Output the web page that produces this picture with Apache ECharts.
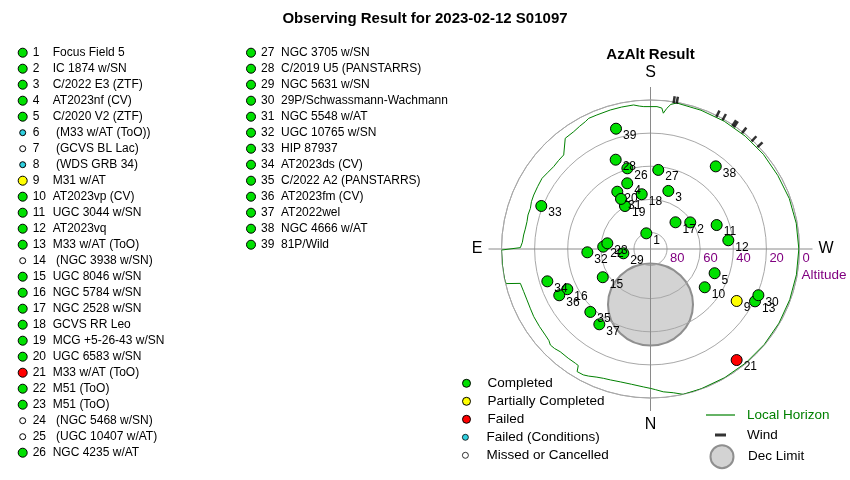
<!DOCTYPE html>
<html>
<head>
<meta charset="utf-8">
<script src="https://cdn.jsdelivr.net/npm/echarts@6/dist/echarts.min.js"></script>
<style>
html,body{margin:0;padding:0;background:#fff}
#main{width:850px;height:480px}
</style>
</head>
<body>
<div id="main"></div>
<script>
// target list (left side)
var targetNames = [
    'Focus Field 5', 'IC 1874 w/SN', 'C/2022 E3 (ZTF)', 'AT2023nf (CV)', 'C/2020 V2 (ZTF)',
    '(M33 w/AT (ToO))', '(GCVS BL Lac)', '(WDS GRB 34)', 'M31 w/AT', 'AT2023vp (CV)',
    'UGC 3044 w/SN', 'AT2023vq', 'M33 w/AT (ToO)', '(NGC 3938 w/SN)', 'UGC 8046 w/SN',
    'NGC 5784 w/SN', 'NGC 2528 w/SN', 'GCVS RR Leo', 'MCG +5-26-43 w/SN', 'UGC 6583 w/SN',
    'M33 w/AT (ToO)', 'M51 (ToO)', 'M51 (ToO)', '(NGC 5468 w/SN)', '(UGC 10407 w/AT)',
    'NGC 4235 w/AT', 'NGC 3705 w/SN', 'C/2019 U5 (PANSTARRS)', 'NGC 5631 w/SN', '29P/Schwassmann-Wachmann',
    'NGC 5548 w/AT', 'UGC 10765 w/SN', 'HIP 87937', 'AT2023ds (CV)', 'C/2022 A2 (PANSTARRS)',
    'AT2023fm (CV)', 'AT2022wel', 'NGC 4666 w/AT', '81P/Wild'
];
var targetStatus = [
    'C','C','C','C','C','FC','M','FC','P','C',
    'C','C','C','M','C','C','C','C','C','C',
    'F','C','C','M','M','C','C','C','C','C',
    'C','C','C','C','C','C','C','C','C'
];

var statusKeys = ['C', 'P', 'F', 'FC', 'M'];
var statusLabels = ['Completed', 'Partially Completed', 'Failed', 'Failed (Conditions)', 'Missed or Cancelled'];
var statusColors = ['#00e000', '#ffff00', '#ff0000', '#30d0e0', '#ffffff'];
var listDotSize = [9, 9, 9, 6, 6];
var legendDotSize = [8, 8, 8, 6, 5];

// plotted targets: number, azimuth (deg, N=0 E=90), altitude (deg)
var pointNo  = [1, 2, 3, 4, 5, 9, 10, 11, 12, 13, 15, 16, 17, 18, 19, 20, 21, 22, 23, 26, 27, 28, 29, 30, 31, 32, 33, 34, 35, 36, 37, 38, 39];
var pointAz  = [165.0, 236.2, 197.1, 160.5, 290.7, 301.1, 305.2, 250.1, 263.6, 296.6, 59.4, 64.2, 223.1, 170.9, 149.3, 149.9, 322.2, 92.8, 97.5, 164.0, 185.6, 158.7, 81.0, 293.2, 149.5, 87.0, 111.5, 72.6, 43.7, 63.1, 34.2, 218.3, 164.0];
var pointAlt = [80.2, 61.1, 53.3, 47.9, 48.6, 29.2, 49.9, 47.5, 42.7, 19.4, 56.5, 34.2, 67.9, 56.5, 59.8, 50.0, 5.1, 61.4, 63.7, 39.3, 42.0, 32.1, 73.4, 19.1, 54.9, 51.8, 19.1, 24.7, 37.4, 28.2, 35.0, 26.4, 14.4];

// local horizon
var horizonAz = [0, 3, 8, 12.8, 17, 19.9, 22.7, 26, 28.1, 30.9, 31.8, 33.3, 37, 41.3, 44, 46.2, 48, 50.7, 55, 59.9,
    63.5, 67.6, 71.4, 75.2, 76.5, 77.4, 80, 83.8, 89.6, 90.6, 93, 96.3, 99, 102.5, 105.5, 108.7, 111.7, 114.8, 119, 123.1,
    126.5, 130.4, 134, 137.3, 142.4, 146.8, 150, 152.9, 154.7, 158.2, 163.9, 168.5, 173.3, 175.5, 177.3, 182.6, 184.6, 185.4, 186.6, 188,
    190.2, 200, 210, 220, 230, 240, 250, 260, 270, 280, 290, 300, 310, 320, 330, 340, 347.3, 351, 354.9, 358, 360];
var horizonAlt = [5.8, 6.6, 7.5, 7.7, 7.3, 6.9, 6.1, 4.6, 3.8, 3.7, 7.2, 7.4, 7.4, 7.4, 6.5, 6.2, 7.4, 7.9, 8.2, 8.5,
    9.0, 9.3, 9.2, 8.7, 0.5, 0, 0, 0, 0, 11.4, 12.5, 12.9, 13.4, 13.6, 13.2, 13.4, 12.6, 12.3, 12.1, 11.8,
    12.6, 13.2, 12.9, 12.7, 5.6, 5.3, 4.4, 3.6, 2.7, 2.8, 2.6, 2.5, 2.4, 3.4, 3.9, 3.9, 4.6, 7.6, 4.5, 1.8,
    0.4, 0.8, 0.9, 1.0, 1.0, 1.2, 0.8, 0.6, 0.4, 0.5, 0.5, 0.4, 0.3, 0.3, 0.3, 0.2, 0, 2.1, 3.4, 5.0, 5.8];

// wind marks
var windAz  = [189.0, 190.2, 206.5, 209.2, 213.6, 214.4, 218.3, 223.2, 226.4];
var windAlt = [-1.3, -1.3, -1.3, -1.3, -1.3, -1.3, -1.3, -1.3, -1.3];

// dec limit
var decLimitAz = [0];
var decLimitAlt = [56.5];

var altTicks = [0, 20, 40, 60, 80];
var dirLabels = {0: 'W', 90: 'N', 180: 'E', 270: 'S'};

var FONT = '"Liberation Sans", Arial, sans-serif';
var CX = 650.5, CY = 249;

// azimuth -> angle axis value (W at right, clockwise)
function toAngle(az) {
    return (az + 90) % 360;
}

var chart = echarts.init(document.getElementById('main'));

// polar status series
var statusSeries = statusKeys.map(function (k, i) {
    var data = [];
    for (var j = 0; j < pointNo.length; j++) {
        if (targetStatus[pointNo[j] - 1] === k) {
            data.push({name: String(pointNo[j]), value: [pointAlt[j], toAngle(pointAz[j])]});
        }
    }
    return {
        name: statusLabels[i],
        type: 'scatter',
        coordinateSystem: 'polar',
        polarIndex: 1,
        data: data,
        symbolSize: 11,
        clip: false,
        silent: true,
        z: 4,
        itemStyle: {color: statusColors[i], borderColor: '#000', borderWidth: 1, opacity: 1},
        label: {
            show: true, position: 'right', distance: 1, offset: [0, 7],
            formatter: '{b}', fontSize: 12, fontFamily: FONT, color: '#000'
        }
    };
});

// left list, two columns
function listColumn(from, to) {
    var nums = [], data = [];
    for (var i = from; i < to; i++) {
        var s = statusKeys.indexOf(targetStatus[i]);
        nums.push(String(i + 1));
        data.push({value: [0, i - from], symbolSize: listDotSize[s], itemStyle: {color: statusColors[s]}});
    }
    return {nums: nums, data: data};
}
var col1 = listColumn(0, 26);
var col2 = listColumn(26, 39);

function listLabel(v) {
    var name = targetNames[+v - 1];
    if (name.charAt(0) === '(') name = ' ' + name;
    return '{n|' + v + '}{t|' + name + '}';
}
var listRich = {
    n: {width: 20, fontSize: 12, fontFamily: FONT, color: '#000'},
    t: {fontSize: 12, fontFamily: FONT, color: '#000'}
};

function listYAxis(grid, nums) {
    return {
        gridIndex: grid, type: 'category', inverse: true, data: nums,
        axisLine: {show: false}, axisTick: {show: false}, splitLine: {show: false},
        axisLabel: {inside: true, margin: 10, align: 'left', formatter: listLabel, rich: listRich, interval: 0}
    };
}

var legendText = {fontSize: 13.5, lineHeight: 18, fontFamily: FONT, color: '#000'};

var option = {
    animation: false,
    backgroundColor: '#fff',
    title: [
        {text: 'Observing Result for 2023-02-12 S01097', left: 425, textAlign: 'center', top: 11, padding: 0,
            textStyle: {fontSize: 15, fontWeight: 'bold', fontFamily: FONT, color: '#000'}},
        {text: 'AzAlt Result', left: CX, textAlign: 'center', top: 47, padding: 0,
            textStyle: {fontSize: 15, fontWeight: 'bold', fontFamily: FONT, color: '#000'}},
        {text: 'Altitude', left: 824, textAlign: 'center', top: 268, padding: 0,
            textStyle: {fontSize: 13.5, fontWeight: 'normal', fontFamily: FONT, color: '#800080'}}
    ],
    grid: [
        {left: 22.7, top: 44.7, width: 100, height: 416},
        {left: 251, top: 44.7, width: 100, height: 208}
    ],
    xAxis: [
        {gridIndex: 0, type: 'value', min: 0, max: 1, show: false},
        {gridIndex: 1, type: 'value', min: 0, max: 1, show: false}
    ],
    yAxis: [listYAxis(0, col1.nums), listYAxis(1, col2.nums)],
    polar: [
        {center: [CX, CY], radius: 162},
        {center: [CX, CY], radius: 149}
    ],
    angleAxis: [
        {
            polarIndex: 0, type: 'value', min: 0, max: 360, interval: 90, startAngle: 0, clockwise: true,
            axisLine: {show: false}, axisTick: {show: false},
            splitLine: {show: true, lineStyle: {color: '#8a8a8a', width: 1}},
            axisLabel: {
                show: true, margin: 6, fontSize: 16, fontFamily: FONT, color: '#000',
                formatter: function (v) { return v >= 360 ? '' : dirLabels[v]; }
            }
        },
        {
            polarIndex: 1, type: 'value', min: 0, max: 360, startAngle: 0, clockwise: true,
            axisLine: {show: true, lineStyle: {color: '#a8a8a8', width: 1}},
            axisTick: {show: false}, axisLabel: {show: false}, splitLine: {show: false}
        }
    ],
    radiusAxis: [
        {polarIndex: 0, type: 'value', min: 0, max: 1, show: false,
            axisLine: {show: false}, axisTick: {show: false}, axisLabel: {show: false}, splitLine: {show: false}},
        {
            polarIndex: 1, type: 'value', min: 0, max: 90, interval: 20, inverse: true,
            axisLine: {show: false}, axisTick: {show: false},
            splitLine: {show: true, lineStyle: {color: '#a8a8a8', width: 1}},
            axisLabel: {
                show: true, fontSize: 13, fontFamily: FONT, color: '#800080', margin: -3,
                align: 'left', verticalAlign: 'top', padding: [0, 0, 0, 3],
                formatter: function (v) { return altTicks.indexOf(v) >= 0 ? String(v) : ''; }
            }
        }
    ],
    legend: [
        {
            data: statusLabels.slice(0, 3), orient: 'vertical', left: 462, top: 374.3, padding: 0,
            itemWidth: 32, itemHeight: legendDotSize[0], itemGap: 0, selectedMode: false, icon: 'circle',
            itemStyle: {borderWidth: 1}, textStyle: legendText
        },
        {
            data: statusLabels.slice(3, 5), orient: 'vertical', left: 462, top: 428.3, padding: 0,
            itemWidth: 32, itemHeight: legendDotSize[3], itemGap: 0, selectedMode: false, icon: 'circle',
            itemStyle: {borderWidth: 0.8}, textStyle: legendText
        },
        {
            data: [{name: 'Local Horizon', textStyle: {color: '#008000'}}], left: 706, top: 406, padding: 0,
            icon: 'rect', symbolKeepAspect: false, itemWidth: 29, itemHeight: 1.2, selectedMode: false,
            textStyle: {fontSize: 13.5, lineHeight: 18, fontFamily: FONT, padding: [0, 0, 0, 7]}
        },
        {
            data: ['Wind'], left: 715, top: 426, padding: 0, icon: 'rect', symbolKeepAspect: false, symbolRotate: 0,
            itemWidth: 11, itemHeight: 3, selectedMode: false,
            textStyle: {fontSize: 13.5, lineHeight: 18, fontFamily: FONT, color: '#000', padding: [0, 0, 0, 16]}
        },
        {
            data: ['Dec Limit'], left: 709.5, top: 444.2, padding: 0, icon: 'circle',
            itemWidth: 23, itemHeight: 23, selectedMode: false,
            textStyle: {fontSize: 13.5, lineHeight: 18, fontFamily: FONT, color: '#000', padding: [0, 0, 0, 9.5]}
        }
    ],
    series: [
        {
            name: 'Dec Limit', type: 'scatter', coordinateSystem: 'polar', polarIndex: 1, z: -1, silent: true, clip: false,
            data: decLimitAz.map(function (az, i) { return [decLimitAlt[i], toAngle(az)]; }),
            symbolSize: [85, 82],
            itemStyle: {color: '#d3d3d3', borderColor: '#8f8f8f', borderWidth: 2, opacity: 1}
        },
        {
            name: 'Local Horizon', type: 'line', coordinateSystem: 'polar', polarIndex: 1, silent: true, clip: false,
            symbol: 'none', smooth: false, z: 3,
            data: horizonAz.map(function (az, i) { return [horizonAlt[i], toAngle(az)]; }),
            lineStyle: {color: '#008000', width: 1}, itemStyle: {color: '#008000'}
        },
        {
            name: 'Wind', type: 'scatter', coordinateSystem: 'polar', polarIndex: 1, silent: true, clip: false, z: 3,
            symbol: 'rect', symbolSize: [2.5, 7],
            data: windAz.map(function (az, i) { return {value: [windAlt[i], toAngle(az)], symbolRotate: 180 - az}; }),
            itemStyle: {color: '#000'}
        },
        {
            name: 'list0', type: 'scatter', xAxisIndex: 0, yAxisIndex: 0, silent: true, data: col1.data,
            itemStyle: {borderColor: '#000', borderWidth: 1, opacity: 1}
        },
        {
            name: 'list1', type: 'scatter', xAxisIndex: 1, yAxisIndex: 1, silent: true, data: col2.data,
            itemStyle: {borderColor: '#000', borderWidth: 1, opacity: 1}
        }
    ].concat(statusSeries)
};

chart.setOption(option);
</script>
</body>
</html>
